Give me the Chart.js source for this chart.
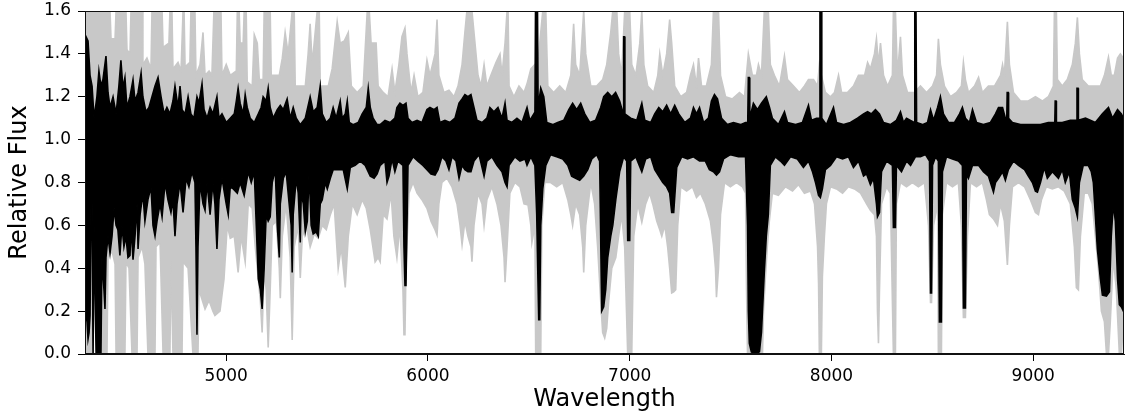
<!DOCTYPE html>
<html>
<head>
<meta charset="utf-8">
<script src="https://cdn.jsdelivr.net/npm/chart.js@4.4.1/dist/chart.umd.min.js"></script>
<style>
  html, body { margin: 0; padding: 0; background: #fff; }
  #wrap { width: 1127px; height: 420px; }
</style>
</head>
<body>
<div id="wrap"><canvas id="c" width="1127" height="420"></canvas></div>
<script>
// Tick labels
const xTicks = [5000, 6000, 7000, 8000, 9000];
const yTicks = [0, 0.2, 0.4, 0.6, 0.8, 1.0, 1.2, 1.4, 1.6];

// Black spectrum: upper and lower envelope [wavelength, relative flux]
const blackUpper = [
[4300,1.10],[4305,1.48],[4315,1.46],[4325,1.30],[4335,1.25],[4345,1.10],[4359,1.20],[4369,1.32],[4379,1.25],[4389,1.28],
[4404,1.39],[4414,1.22],[4424,1.15],[4439,1.20],[4454,1.12],[4468,1.25],[4478,1.37],[4488,1.24],[4498,1.29],[4508,1.15],
[4523,1.20],[4538,1.28],[4548,1.18],[4563,1.22],[4578,1.31],[4587,1.20],[4602,1.13],[4617,1.15],[4632,1.20],[4647,1.25],
[4662,1.29],[4677,1.20],[4692,1.12],[4706,1.15],[4721,1.12],[4736,1.18],[4746,1.25],[4761,1.15],[4771,1.25],[4781,1.14],
[4796,1.12],[4811,1.20],[4825,1.12],[4840,1.10],[4855,1.20],[4865,1.17],[4880,1.26],[4890,1.14],[4905,1.10],[4920,1.15],
[4934,1.12],[4954,1.20],[4964,1.10],[4979,1.12],[5000,1.08],[5020,1.10],[5040,1.12],[5050,1.18],[5059,1.24],[5069,1.17],
[5084,1.12],[5094,1.21],[5104,1.15],[5119,1.10],[5139,1.08],[5159,1.12],[5173,1.15],[5183,1.20],[5198,1.18],[5208,1.24],
[5218,1.15],[5233,1.10],[5253,1.14],[5268,1.16],[5283,1.14],[5302,1.19],[5317,1.10],[5332,1.15],[5347,1.10],[5367,1.07],
[5392,1.10],[5416,1.20],[5431,1.13],[5451,1.15],[5466,1.25],[5476,1.12],[5496,1.08],[5516,1.10],[5530,1.15],[5545,1.10],
[5565,1.18],[5575,1.10],[5590,1.12],[5600,1.18],[5610,1.08],[5629,1.07],[5654,1.08],[5674,1.12],[5694,1.15],[5704,1.24],
[5714,1.15],[5728,1.10],[5748,1.07],[5763,1.07],[5787,1.09],[5812,1.08],[5836,1.10],[5846,1.15],[5861,1.17],[5876,1.16],
[5891,1.17],[5901,1.10],[5921,1.08],[5946,1.09],[5970,1.08],[5995,1.14],[6010,1.15],[6030,1.14],[6045,1.15],[6059,1.08],
[6084,1.09],[6109,1.08],[6134,1.10],[6154,1.17],[6169,1.19],[6183,1.21],[6198,1.20],[6213,1.21],[6228,1.15],[6243,1.09],
[6268,1.08],[6292,1.10],[6307,1.15],[6327,1.13],[6347,1.15],[6367,1.10],[6382,1.17],[6392,1.09],[6416,1.08],[6441,1.10],
[6466,1.08],[6491,1.15],[6505,1.09],[6525,1.12],[6530,1.10],[6533,1.60],[6543,1.60],[6546,1.15],[6559,1.24],[6574,1.20],
[6589,1.08],[6618,1.07],[6643,1.08],[6673,1.09],[6698,1.14],[6717,1.17],[6737,1.14],[6757,1.17],[6777,1.12],[6802,1.08],
[6831,1.09],[6856,1.15],[6871,1.20],[6891,1.22],[6911,1.20],[6930,1.22],[6950,1.18],[6965,1.13],[6968,1.12],[6970,1.48],
[6974,1.48],[6976,1.12],[7005,1.10],[7035,1.09],[7060,1.17],[7075,1.09],[7104,1.08],[7124,1.12],[7144,1.15],[7164,1.13],
[7183,1.16],[7203,1.12],[7223,1.16],[7243,1.12],[7273,1.08],[7301,1.10],[7316,1.15],[7331,1.12],[7346,1.15],[7366,1.08],
[7390,1.10],[7405,1.18],[7420,1.21],[7435,1.19],[7455,1.10],[7484,1.07],[7514,1.08],[7549,1.07],[7574,1.08],[7585,1.08],
[7588,1.29],[7592,1.29],[7595,1.10],[7613,1.17],[7633,1.14],[7653,1.17],[7677,1.20],[7693,1.15],[7707,1.10],[7737,1.07],
[7767,1.13],[7782,1.08],[7822,1.07],[7856,1.08],[7886,1.16],[7901,1.09],[7926,1.10],[7940,1.10],[7943,1.60],[7949,1.60],
[7952,1.10],[7975,1.07],[8010,1.15],[8025,1.08],[8060,1.07],[8094,1.08],[8129,1.10],[8159,1.12],[8179,1.13],[8198,1.12],
[8218,1.14],[8238,1.12],[8258,1.08],[8292,1.07],[8322,1.09],[8342,1.13],[8357,1.08],[8372,1.10],[8410,1.08],[8413,1.60],
[8419,1.60],[8422,1.08],[8451,1.07],[8476,1.08],[8491,1.14],[8506,1.09],[8526,1.15],[8540,1.20],[8555,1.12],[8580,1.08],
[8610,1.08],[8635,1.12],[8649,1.15],[8664,1.10],[8684,1.08],[8699,1.14],[8719,1.08],[8753,1.07],[8788,1.08],[8813,1.12],
[8828,1.15],[8848,1.15],[8862,1.10],[8869,1.10],[8871,1.22],[8876,1.22],[8878,1.10],[8897,1.08],[8937,1.07],[8986,1.07],
[9036,1.07],[9075,1.08],[9107,1.08],[9109,1.18],[9113,1.18],[9115,1.08],[9144,1.08],[9184,1.09],[9215,1.09],[9217,1.24],
[9222,1.24],[9224,1.09],[9259,1.10],[9308,1.08],[9343,1.12],[9373,1.15],[9393,1.10],[9418,1.14],[9437,1.12],[9457,1.08]
];

const blackLower = [
[4300,0.85],[4305,0.18],[4310,0.15],[4315,0.07],[4320,0.10],[4325,0.18],[4330,0.72],[4335,0.70],[4340,0.00],[4345,0.60],
[4350,0.30],[4355,0.00],[4379,0.00],[4384,0.45],[4394,0.30],[4399,0.21],[4404,0.45],[4414,0.55],[4424,0.47],[4434,0.55],
[4444,0.68],[4454,0.60],[4463,0.58],[4473,0.46],[4483,0.60],[4493,0.50],[4503,0.55],[4513,0.45],[4523,0.46],[4528,0.60],
[4538,0.44],[4548,0.55],[4558,0.70],[4563,0.49],[4573,0.65],[4587,0.75],[4597,0.62],[4612,0.72],[4627,0.78],[4637,0.60],
[4647,0.55],[4657,0.62],[4672,0.70],[4682,0.64],[4697,0.80],[4711,0.72],[4726,0.66],[4736,0.72],[4746,0.55],[4756,0.70],
[4771,0.80],[4786,0.66],[4801,0.82],[4815,0.78],[4830,0.85],[4845,0.80],[4850,0.50],[4855,0.09],[4860,0.50],[4870,0.80],
[4885,0.70],[4895,0.67],[4905,0.80],[4920,0.65],[4934,0.80],[4944,0.70],[4954,0.49],[4964,0.72],[4979,0.82],[5000,0.70],
[5010,0.65],[5020,0.78],[5035,0.77],[5055,0.75],[5069,0.80],[5089,0.74],[5109,0.85],[5124,0.80],[5139,0.85],[5149,0.60],
[5159,0.35],[5169,0.30],[5178,0.21],[5188,0.40],[5198,0.65],[5208,0.62],[5218,0.64],[5228,0.80],[5243,0.86],[5253,0.60],
[5263,0.45],[5268,0.70],[5283,0.82],[5297,0.85],[5312,0.70],[5322,0.60],[5327,0.38],[5332,0.65],[5347,0.82],[5357,0.75],
[5367,0.52],[5372,0.75],[5382,0.70],[5392,0.57],[5402,0.62],[5411,0.85],[5421,0.60],[5431,0.56],[5446,0.57],[5456,0.55],
[5466,0.70],[5476,0.72],[5491,0.80],[5501,0.77],[5516,0.82],[5530,0.86],[5555,0.86],[5580,0.86],[5600,0.77],[5615,0.87],
[5639,0.88],[5664,0.90],[5689,0.88],[5714,0.83],[5733,0.82],[5748,0.84],[5763,0.88],[5787,0.90],[5797,0.80],[5807,0.83],
[5822,0.91],[5836,0.85],[5851,0.90],[5876,0.88],[5881,0.50],[5886,0.32],[5891,0.32],[5896,0.60],[5901,0.88],[5926,0.92],
[5950,0.90],[5975,0.88],[5995,0.86],[6015,0.84],[6035,0.835],[6050,0.86],[6069,0.92],[6089,0.90],[6104,0.86],[6119,0.92],
[6139,0.90],[6154,0.82],[6169,0.88],[6183,0.86],[6198,0.85],[6213,0.85],[6228,0.90],[6253,0.93],[6278,0.83],[6292,0.90],
[6317,0.92],[6342,0.88],[6367,0.85],[6382,0.80],[6392,0.78],[6402,0.88],[6431,0.92],[6456,0.90],[6481,0.91],[6491,0.88],
[6510,0.92],[6530,0.88],[6539,0.65],[6544,0.40],[6549,0.16],[6554,0.16],[6559,0.60],[6569,0.77],[6584,0.88],[6608,0.93],
[6638,0.92],[6668,0.91],[6693,0.88],[6712,0.83],[6732,0.82],[6752,0.81],[6772,0.83],[6792,0.86],[6812,0.91],[6836,0.93],
[6851,0.90],[6861,0.20],[6871,0.22],[6881,0.30],[6891,0.45],[6906,0.55],[6916,0.60],[6931,0.72],[6950,0.85],[6970,0.92],
[6985,0.90],[6990,0.53],[7000,0.53],[7005,0.90],[7030,0.92],[7060,0.85],[7079,0.91],[7104,0.92],[7124,0.86],[7144,0.83],
[7164,0.80],[7183,0.78],[7198,0.75],[7208,0.66],[7218,0.66],[7233,0.87],[7258,0.92],[7287,0.91],[7316,0.92],[7346,0.90],
[7375,0.90],[7395,0.86],[7415,0.85],[7430,0.835],[7445,0.85],[7465,0.91],[7499,0.93],[7539,0.92],[7574,0.92],[7584,0.60],
[7588,0.20],[7593,0.05],[7603,0.01],[7623,0.00],[7643,0.01],[7653,0.10],[7667,0.38],[7677,0.55],[7687,0.65],[7697,0.88],
[7722,0.92],[7747,0.90],[7767,0.88],[7797,0.92],[7831,0.91],[7861,0.87],[7886,0.90],[7906,0.85],[7921,0.80],[7936,0.74],
[7945,0.73],[7955,0.77],[7970,0.86],[7995,0.88],[8025,0.92],[8055,0.91],[8084,0.92],[8109,0.87],[8134,0.90],[8159,0.83],
[8174,0.84],[8193,0.79],[8208,0.82],[8223,0.70],[8228,0.64],[8238,0.66],[8248,0.85],[8273,0.90],[8302,0.88],[8307,0.59],
[8317,0.59],[8322,0.88],[8347,0.85],[8372,0.90],[8392,0.88],[8416,0.92],[8441,0.92],[8466,0.93],[8486,0.90],[8491,0.285],
[8496,0.285],[8501,0.88],[8516,0.92],[8530,0.90],[8535,0.15],[8545,0.15],[8550,0.85],[8570,0.92],[8600,0.91],[8629,0.90],
[8649,0.88],[8654,0.215],[8664,0.215],[8669,0.84],[8679,0.82],[8699,0.88],[8729,0.88],[8753,0.85],[8778,0.83],[8803,0.755],
[8813,0.80],[8828,0.82],[8848,0.85],[8862,0.81],[8877,0.86],[8902,0.90],[8927,0.88],[8957,0.86],[8976,0.83],[8996,0.80],
[9011,0.76],[9021,0.755],[9036,0.80],[9055,0.87],[9070,0.82],[9095,0.85],[9125,0.82],[9144,0.86],[9159,0.80],[9179,0.85],
[9194,0.72],[9209,0.68],[9219,0.64],[9229,0.80],[9248,0.88],[9273,0.88],[9288,0.85],[9298,0.80],[9318,0.49],[9333,0.35],
[9343,0.275],[9363,0.27],[9378,0.29],[9387,0.55],[9397,0.70],[9407,0.62],[9418,0.35],[9427,0.23],[9437,0.22],[9447,0.20],
[9457,0.20]
];

// Grey spectrum: upper and lower envelope [wavelength, relative flux]
const grayUpper = [
[4300,1.60],[4424,1.60],[4429,1.47],[4449,1.47],[4454,1.60],[4503,1.60],[4508,1.42],[4523,1.40],[4528,1.60],[4583,1.60],
[4587,1.35],[4607,1.38],[4627,1.33],[4632,1.60],[4682,1.60],[4687,1.43],[4716,1.45],[4721,1.60],[4731,1.60],[4736,1.33],
[4761,1.36],[4776,1.32],[4786,1.60],[4791,1.60],[4796,1.34],[4820,1.36],[4825,1.60],[4845,1.60],[4850,1.30],[4870,1.35],
[4885,1.50],[4895,1.30],[4915,1.32],[4929,1.30],[4939,1.60],[4974,1.60],[4979,1.30],[5000,1.35],[5020,1.30],[5050,1.32],
[5055,1.60],[5064,1.60],[5069,1.45],[5084,1.45],[5089,1.60],[5099,1.60],[5104,1.27],[5129,1.25],[5139,1.49],[5154,1.45],
[5164,1.28],[5183,1.28],[5188,1.60],[5218,1.60],[5223,1.30],[5263,1.30],[5278,1.38],[5292,1.50],[5307,1.40],[5327,1.60],
[5337,1.60],[5342,1.25],[5392,1.25],[5406,1.40],[5416,1.54],[5426,1.35],[5451,1.60],[5461,1.60],[5466,1.25],[5506,1.25],
[5525,1.33],[5550,1.55],[5565,1.45],[5585,1.46],[5605,1.50],[5620,1.25],[5649,1.22],[5679,1.25],[5699,1.60],[5709,1.60],
[5718,1.45],[5743,1.45],[5753,1.25],[5778,1.22],[5802,1.20],[5822,1.33],[5836,1.22],[5856,1.35],[5871,1.48],[5886,1.52],
[5896,1.40],[5916,1.22],[5931,1.30],[5950,1.20],[5975,1.22],[5995,1.37],[6010,1.30],[6035,1.40],[6045,1.56],[6054,1.30],
[6079,1.22],[6104,1.23],[6129,1.20],[6149,1.25],[6169,1.35],[6183,1.50],[6193,1.60],[6218,1.60],[6233,1.45],[6248,1.30],
[6263,1.25],[6278,1.35],[6292,1.25],[6312,1.30],[6337,1.36],[6357,1.40],[6367,1.30],[6382,1.45],[6392,1.60],[6397,1.60],
[6402,1.25],[6426,1.20],[6451,1.25],[6476,1.22],[6491,1.26],[6510,1.33],[6530,1.35],[6539,1.30],[6569,1.60],[6584,1.60],
[6594,1.25],[6623,1.22],[6653,1.25],[6683,1.22],[6708,1.30],[6722,1.54],[6732,1.35],[6752,1.30],[6772,1.60],[6782,1.40],
[6807,1.25],[6836,1.25],[6866,1.28],[6886,1.35],[6906,1.50],[6916,1.60],[6936,1.60],[6945,1.40],[6960,1.30],[6975,1.60],
[7000,1.60],[7010,1.35],[7030,1.30],[7050,1.45],[7060,1.60],[7070,1.35],[7089,1.25],[7119,1.22],[7139,1.30],[7149,1.40],
[7164,1.30],[7183,1.40],[7198,1.56],[7208,1.45],[7223,1.25],[7253,1.20],[7282,1.22],[7301,1.30],[7316,1.35],[7331,1.25],
[7341,1.38],[7356,1.25],[7380,1.25],[7405,1.35],[7415,1.60],[7440,1.60],[7450,1.30],[7475,1.20],[7509,1.19],[7544,1.22],
[7569,1.20],[7588,1.40],[7608,1.30],[7628,1.30],[7638,1.35],[7653,1.30],[7667,1.60],[7687,1.60],[7697,1.35],[7717,1.30],
[7742,1.25],[7767,1.39],[7782,1.28],[7812,1.25],[7841,1.22],[7866,1.25],[7886,1.28],[7911,1.28],[7931,1.25],[7940,1.35],
[7950,1.30],[7970,1.22],[7995,1.20],[8015,1.22],[8035,1.30],[8050,1.22],[8079,1.22],[8109,1.25],[8134,1.30],[8164,1.30],
[8179,1.36],[8193,1.33],[8213,1.40],[8223,1.47],[8233,1.35],[8243,1.45],[8258,1.30],[8278,1.25],[8302,1.30],[8307,1.60],
[8317,1.60],[8327,1.30],[8342,1.48],[8352,1.30],[8377,1.22],[8411,1.22],[8441,1.25],[8471,1.22],[8501,1.25],[8521,1.30],
[8530,1.47],[8540,1.35],[8560,1.25],[8590,1.20],[8620,1.22],[8644,1.25],[8654,1.36],[8664,1.28],[8679,1.22],[8709,1.25],
[8729,1.29],[8748,1.22],[8778,1.25],[8808,1.25],[8838,1.30],[8848,1.35],[8857,1.30],[8872,1.55],[8882,1.35],[8902,1.22],
[8937,1.18],[8976,1.18],[9011,1.20],[9045,1.18],[9075,1.20],[9100,1.25],[9105,1.60],[9115,1.60],[9120,1.28],[9144,1.25],
[9169,1.28],[9194,1.35],[9209,1.45],[9219,1.57],[9229,1.40],[9243,1.28],[9273,1.25],[9303,1.25],[9333,1.25],[9353,1.30],
[9373,1.385],[9387,1.30],[9402,1.30],[9418,1.38],[9432,1.40],[9447,1.38],[9457,1.35]
];

const grayLower = [
[4300,0.00],[4340,0.00],[4345,0.40],[4364,0.45],[4374,0.00],[4409,0.00],[4414,0.45],[4434,0.48],[4449,0.42],[4454,0.00],
[4498,0.00],[4503,0.43],[4518,0.40],[4533,0.00],[4558,0.00],[4563,0.45],[4583,0.50],[4597,0.42],[4612,0.00],[4647,0.00],
[4652,0.50],[4672,0.52],[4687,0.00],[4721,0.00],[4726,0.45],[4736,0.00],[4781,0.00],[4786,0.43],[4811,0.40],[4835,0.00],
[4860,0.00],[4865,0.30],[4895,0.21],[4915,0.25],[4934,0.20],[4944,0.18],[4969,0.20],[4989,0.35],[5005,0.60],[5020,0.54],
[5040,0.55],[5059,0.38],[5074,0.55],[5094,0.43],[5109,0.70],[5129,0.68],[5144,0.50],[5154,0.40],[5169,0.25],[5178,0.10],
[5188,0.40],[5198,0.30],[5208,0.03],[5218,0.30],[5228,0.60],[5248,0.62],[5263,0.40],[5268,0.26],[5278,0.55],[5297,0.70],
[5317,0.45],[5327,0.065],[5337,0.50],[5357,0.60],[5367,0.355],[5377,0.55],[5397,0.60],[5416,0.50],[5436,0.56],[5456,0.54],
[5476,0.60],[5496,0.58],[5516,0.65],[5535,0.70],[5555,0.40],[5570,0.50],[5590,0.31],[5605,0.55],[5625,0.70],[5649,0.65],
[5674,0.72],[5694,0.68],[5714,0.58],[5738,0.43],[5753,0.45],[5763,0.43],[5778,0.65],[5797,0.63],[5817,0.75],[5831,0.55],
[5846,0.45],[5861,0.60],[5876,0.30],[5881,0.09],[5886,0.09],[5891,0.40],[5906,0.75],[5926,0.80],[5946,0.75],[5970,0.72],
[5995,0.68],[6015,0.62],[6035,0.58],[6045,0.555],[6054,0.70],[6069,0.80],[6094,0.82],[6119,0.78],[6144,0.70],[6159,0.60],
[6169,0.51],[6183,0.62],[6198,0.55],[6213,0.50],[6218,0.43],[6228,0.60],[6248,0.75],[6268,0.70],[6278,0.60],[6292,0.72],
[6317,0.78],[6342,0.70],[6362,0.60],[6377,0.45],[6382,0.335],[6392,0.50],[6406,0.75],[6431,0.80],[6456,0.78],[6476,0.70],
[6496,0.695],[6510,0.60],[6515,0.52],[6530,0.60],[6534,0.00],[6559,0.00],[6564,0.60],[6579,0.80],[6608,0.80],[6638,0.78],
[6668,0.80],[6693,0.72],[6708,0.65],[6717,0.60],[6732,0.70],[6752,0.65],[6767,0.50],[6772,0.38],[6782,0.60],[6807,0.80],
[6826,0.70],[6841,0.50],[6856,0.25],[6866,0.10],[6876,0.075],[6886,0.12],[6896,0.25],[6911,0.40],[6931,0.45],[6945,0.55],
[6960,0.65],[6975,0.50],[6990,0.00],[7010,0.00],[7020,0.55],[7040,0.70],[7060,0.615],[7079,0.70],[7099,0.75],[7114,0.70],
[7134,0.62],[7149,0.58],[7159,0.55],[7174,0.60],[7188,0.50],[7198,0.40],[7208,0.285],[7218,0.29],[7228,0.30],[7238,0.60],
[7253,0.78],[7282,0.76],[7311,0.78],[7331,0.73],[7351,0.75],[7375,0.70],[7400,0.62],[7415,0.51],[7425,0.40],[7430,0.265],
[7440,0.40],[7450,0.65],[7470,0.80],[7499,0.78],[7529,0.80],[7559,0.78],[7574,0.75],[7579,0.30],[7584,0.00],[7658,0.00],
[7663,0.20],[7672,0.35],[7682,0.50],[7692,0.62],[7707,0.75],[7737,0.74],[7772,0.78],[7807,0.76],[7836,0.79],[7866,0.75],
[7896,0.76],[7916,0.70],[7931,0.50],[7936,0.33],[7940,0.00],[7950,0.00],[7955,0.36],[7965,0.55],[7975,0.70],[7995,0.78],
[8025,0.77],[8055,0.75],[8084,0.78],[8114,0.77],[8144,0.75],[8174,0.70],[8193,0.67],[8213,0.65],[8223,0.55],[8228,0.20],
[8233,0.05],[8238,0.30],[8248,0.70],[8273,0.78],[8292,0.75],[8307,0.00],[8317,0.00],[8322,0.70],[8342,0.80],[8372,0.78],
[8401,0.80],[8431,0.78],[8461,0.80],[8481,0.60],[8491,0.24],[8496,0.24],[8506,0.60],[8526,0.70],[8530,0.00],[8545,0.00],
[8550,0.65],[8570,0.80],[8600,0.78],[8629,0.80],[8644,0.60],[8654,0.17],[8664,0.17],[8674,0.55],[8689,0.80],[8719,0.78],
[8748,0.80],[8768,0.72],[8783,0.65],[8803,0.63],[8823,0.60],[8838,0.70],[8857,0.62],[8872,0.415],[8882,0.60],[8897,0.78],
[8927,0.80],[8957,0.78],[8986,0.72],[9011,0.66],[9026,0.65],[9041,0.72],[9065,0.78],[9095,0.77],[9125,0.78],[9154,0.76],
[9184,0.70],[9204,0.50],[9214,0.31],[9224,0.30],[9234,0.55],[9253,0.75],[9273,0.75],[9293,0.70],[9308,0.55],[9323,0.40],
[9338,0.20],[9353,0.15],[9363,0.00],[9373,0.00],[9382,0.15],[9397,0.45],[9412,0.30],[9427,0.00],[9437,0.00],[9447,0.15],
[9457,0.18]
];

const BLACK = '#000000';
const GREY = '#c8c8c8';
const FONT = 'DejaVu Sans';

const toPts = arr => arr.map(p => ({ x: p[0], y: p[1] }));

const envelope = (data, color, fillTarget, order) => ({
  data: toPts(data),
  borderColor: color,
  backgroundColor: color,
  borderWidth: 1.6,
  pointRadius: 0,
  tension: 0,
  fill: fillTarget === null ? false : fillTarget,
  order: order
});

const framePlugin = {
  id: 'frame',
  afterDraw(chart) {
    const { ctx, chartArea: a } = chart;
    ctx.save();
    ctx.strokeStyle = '#111';
    ctx.lineWidth = 1;
    ctx.strokeRect(Math.round(a.left) + 0.5, Math.round(a.top) + 0.5,
                   Math.round(a.right - a.left) - 1, Math.round(a.bottom - a.top) - 1);
    ctx.restore();
  }
};

new Chart(document.getElementById('c'), {
  type: 'line',
  data: {
    datasets: [
      envelope(blackUpper, BLACK, 1, 0),
      envelope(blackLower, BLACK, null, 0),
      envelope(grayUpper, GREY, 3, 1),
      envelope(grayLower, GREY, null, 1)
    ]
  },
  options: {
    responsive: false,
    animation: false,
    devicePixelRatio: 1,
    layout: { padding: { top: 11, right: 3, left: 0, bottom: 0 } },
    plugins: {
      legend: { display: false },
      tooltip: { enabled: false },
      filler: { propagate: false }
    },
    scales: {
      x: {
        type: 'linear',
        min: 4300,
        max: 9450,
        afterBuildTicks: s => { s.ticks = xTicks.map(v => ({ value: v })); },
        afterFit: s => { s.height = 66; s.paddingLeft = 0; s.paddingRight = 0; },
        ticks: {
          callback: v => String(v),
          font: { family: FONT, size: 17 },
          color: '#000',
          padding: 5,
          maxRotation: 0
        },
        grid: { drawOnChartArea: false, drawTicks: true, tickLength: 7, color: '#000', tickColor: '#000' },
        border: { display: true, color: '#111', width: 1 },
        title: { display: true, text: 'Wavelength', font: { family: FONT, size: 24 }, color: '#000', padding: { top: 0, bottom: 6 } }
      },
      y: {
        min: 0,
        max: 1.6,
        afterBuildTicks: s => { s.ticks = yTicks.map(v => ({ value: v })); },
        afterFit: s => { s.width = 85; s.paddingTop = 0; s.paddingBottom = 0; },
        ticks: {
          callback: v => Number(v).toFixed(1),
          font: { family: FONT, size: 17 },
          color: '#000',
          padding: 7
        },
        grid: { drawOnChartArea: false, drawTicks: true, tickLength: 7, color: '#000', tickColor: '#000' },
        border: { display: true, color: '#111', width: 1 },
        title: { display: true, text: 'Relative Flux', font: { family: FONT, size: 24 }, color: '#000', padding: { top: 5, bottom: 0 } }
      }
    }
  },
  plugins: [framePlugin]
});
</script>
</body>
</html>
